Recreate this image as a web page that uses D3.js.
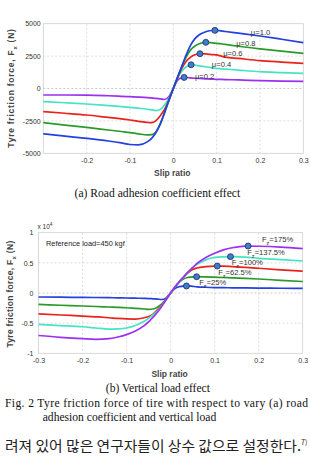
<!DOCTYPE html>
<html><head><meta charset="utf-8">
<script src="https://cdn.jsdelivr.net/npm/d3@7"></script>
<style>
html,body{margin:0;padding:0;background:#fff;}
svg{display:block;}
</style></head>
<body>
<script>
// ---------- DATA: chart (a) road adhesion coefficient ----------
const slipA = [-0.3,-0.25,-0.2,-0.15,-0.12,-0.1,-0.08,-0.06,-0.05,-0.04,-0.03,-0.02,-0.01,0,0.01,0.02,0.03,0.04,0.05,0.06,0.075,0.09,0.1,0.12,0.15,0.2,0.25,0.3];
const muNames = ["μ=0.2","μ=0.4","μ=0.6","μ=0.8","μ=1.0"];
const forceMu02 = [-500,-500,-510,-560,-600,-630,-660,-700,-730,-760,-800,-850,-620,0,650,830,850,815,790,770,745,720,710,690,660,610,575,555];
const forceMu04 = [-1015,-1100,-1196,-1320,-1400,-1453,-1520,-1600,-1650,-1700,-1620,-1250,-750,0,820,1350,1680,1830,1800,1740,1680,1590,1553,1500,1420,1296,1230,1168];
const forceMu06 = [-1790,-1910,-2045,-2230,-2340,-2430,-2530,-2620,-2640,-2480,-2100,-1600,-880,0,860,1580,2100,2420,2600,2680,2670,2620,2590,2420,2320,2150,2040,1940];
const forceMu08 = [-2640,-2820,-3000,-3200,-3320,-3400,-3500,-3580,-3560,-3330,-2700,-1850,-900,0,880,1720,2450,2980,3280,3450,3560,3520,3485,3400,3260,3060,2880,2710];
const forceMu10 = [-3500,-3680,-3850,-4050,-4200,-4320,-4350,-4120,-3850,-3400,-2750,-1850,-900,0,880,1750,2620,3350,3850,4150,4380,4475,4480,4400,4270,4050,3800,3540];
const peakSlipA = [0.025,0.041,0.0615,0.075,0.096];
const peakForceA = [855,1830,2685,3562,4485];
const labelSlipA = [0.050,0.089,0.115,0.145,0.179];
const labelForceA = [940,1867,2723,3526,4360];
const xTicksA = [-0.2,-0.1,0,0.1,0.2,0.3];
const xTickLabelsA = ["-0.2","-0.1","0","0.1","0.2","0.3"];
const yTicksA = [-5000,-2500,0,2500,5000];
const yTickLabelsA = ["-5000","-2500","0","2500","5000"];

// ---------- DATA: chart (b) vertical load (x 10^4 N) ----------
const slipB = [-0.3,-0.25,-0.2,-0.17,-0.14,-0.12,-0.1,-0.08,-0.06,-0.05,-0.04,-0.03,-0.02,-0.01,0,0.01,0.02,0.03,0.04,0.05,0.06,0.08,0.1,0.12,0.14,0.17,0.2,0.25,0.3];
const loadNames = ["25%","62.5%","100%","137.5%","175%"];
const forceFz25 = [-0.066,-0.07,-0.073,-0.075,-0.078,-0.08,-0.083,-0.086,-0.089,-0.092,-0.096,-0.1,-0.108,-0.08,0,0.075,0.105,0.115,0.117,0.11,0.103,0.095,0.09,0.088,0.086,0.084,0.082,0.079,0.077];
const forceFz625 = [-0.19,-0.203,-0.216,-0.224,-0.232,-0.238,-0.245,-0.255,-0.265,-0.27,-0.265,-0.235,-0.18,-0.1,0,0.095,0.18,0.235,0.258,0.268,0.27,0.266,0.262,0.257,0.252,0.243,0.232,0.21,0.19];
const forceFz100 = [-0.345,-0.365,-0.382,-0.395,-0.41,-0.422,-0.43,-0.432,-0.41,-0.39,-0.35,-0.28,-0.2,-0.105,0,0.1,0.19,0.27,0.34,0.39,0.415,0.437,0.446,0.445,0.437,0.425,0.41,0.385,0.362];
const forceFz1375 = [-0.52,-0.54,-0.56,-0.58,-0.6,-0.595,-0.58,-0.54,-0.47,-0.42,-0.36,-0.3,-0.21,-0.11,0,0.1,0.19,0.27,0.35,0.42,0.475,0.55,0.59,0.6,0.603,0.595,0.575,0.555,0.531];
const forceFz175 = [-0.705,-0.735,-0.758,-0.768,-0.758,-0.73,-0.69,-0.63,-0.54,-0.48,-0.4,-0.32,-0.22,-0.11,0,0.1,0.19,0.27,0.35,0.42,0.49,0.59,0.66,0.715,0.75,0.777,0.775,0.762,0.735];
const peakSlipB = [0.036,0.059,0.106,0.136,0.176];
const peakForceB = [0.117,0.27,0.447,0.603,0.779];
const labelSlipB = [0.065,0.108,0.1386,0.174,0.2075];
const labelForceB = [0.171,0.337,0.511,0.68,0.889];
const xTicksB = [-0.3,-0.2,-0.1,0,0.1,0.2,0.3];
const xTickLabelsB = ["-0.3","-0.2","-0.1","0","0.1","0.2","0.3"];
const yTicksB = [-1,-0.5,0,0.5,1];
const yTickLabelsB = ["-1","-0.5","0","0.5","1"];

// ---------- RENDER ----------
const W = 310, H = 469;
const svg = d3.select("body").append("svg").attr("width", W).attr("height", H);
svg.append("rect").attr("width", W).attr("height", H).attr("fill", "#fff");

const seriesColorsA = ["#9b30f0","#45e4c4","#e8231e","#2a9a2a","#2440e0"];
const seriesColorsB = ["#2440e0","#2a9a2a","#e8231e","#45e4c4","#9b30f0"];
const sans = "'Liberation Sans', Arial, sans-serif";

function drawChart(cfg) {
  const x = d3.scaleLinear().domain([-0.3, 0.3]).range([cfg.left, cfg.right]);
  const y = d3.scaleLinear().domain(cfg.yDomain).range([cfg.bottom, cfg.top]);
  const g = svg.append("g");

  // grid
  g.selectAll(".gx").data(cfg.xTicks.filter(v => v > -0.3 && v < 0.3)).join("line")
    .attr("x1", d => x(d)).attr("x2", d => x(d)).attr("y1", cfg.top).attr("y2", cfg.bottom)
    .attr("stroke", "#d4d4d4").attr("stroke-width", 0.8).attr("stroke-dasharray", "2,2");
  g.selectAll(".gy").data(cfg.yTicks.filter(v => v > cfg.yDomain[0] && v < cfg.yDomain[1])).join("line")
    .attr("x1", cfg.left).attr("x2", cfg.right).attr("y1", d => y(d)).attr("y2", d => y(d))
    .attr("stroke", d => d === 0 ? "#bdbdbd" : "#d4d4d4").attr("stroke-width", 0.8).attr("stroke-dasharray", "2,2");
  // frame
  g.append("rect").attr("x", cfg.left).attr("y", cfg.top)
    .attr("width", cfg.right - cfg.left).attr("height", cfg.bottom - cfg.top)
    .attr("fill", "none").attr("stroke", "#cfcfcf").attr("stroke-width", 0.8);

  // axes (labels only)
  const ax = g.append("g").attr("transform", `translate(0,${cfg.bottom})`)
    .call(d3.axisBottom(x).tickValues(cfg.xTicks).tickFormat((d, i) => cfg.xTickLabels[i]).tickSize(0).tickPadding(cfg.xPad));
  const ay = g.append("g").attr("transform", `translate(${cfg.left},0)`)
    .call(d3.axisLeft(y).tickValues(cfg.yTicks).tickFormat((d, i) => cfg.yTickLabels[i]).tickSize(0).tickPadding(cfg.yPad));
  [ax, ay].forEach(a => {
    a.select(".domain").remove();
    a.selectAll("text").attr("font-family", sans)
      .attr("font-size", 7).attr("fill", "#333");
  });

  // curves
  const line = d3.line().x(d => x(d[0])).y(d => y(d[1])).curve(d3.curveMonotoneX);
  cfg.series.forEach((vals, i) => {
    g.append("path").datum(cfg.slip.map((s, k) => [s, vals[k]]))
      .attr("d", line).attr("fill", "none")
      .attr("stroke", cfg.colors[i]).attr("stroke-width", 1.7).attr("stroke-linejoin", "round");
  });

  // markers
  g.selectAll(".mk").data(cfg.peakSlip.map((s, i) => [s, cfg.peakForce[i]])).join("circle")
    .attr("cx", d => x(d[0])).attr("cy", d => y(d[1])).attr("r", 3)
    .attr("fill", "#3f7cc9").attr("stroke", "#1d2d5e").attr("stroke-width", 0.8);

  // annotations
  cfg.names.forEach((name, i) => {
    const t = g.append("text").attr("x", x(cfg.labelSlip[i])).attr("y", y(cfg.labelForce[i]) + 2.8)
      .attr("font-family", sans).attr("font-size", 7.6).attr("fill", "#333");
    if (cfg.subLabel) {
      t.append("tspan").text("F");
      t.append("tspan").text("z").attr("font-size", 5.5).attr("dy", 3);
      t.append("tspan").text("=" + name).attr("dy", -3);
    } else {
      t.text(name);
    }
  });

  // x axis title
  g.append("text").attr("x", (cfg.left + cfg.right) / 2 - 1).attr("y", cfg.xTitleY)
    .attr("text-anchor", "middle").attr("font-family", sans)
    .attr("font-size", 8.5).attr("font-weight", "bold").attr("fill", "#444").text("Slip ratio");

  // y axis title
  const yt = g.append("text").attr("transform", `translate(${cfg.yTitleX},${cfg.yTitleCY}) rotate(-90)`)
    .attr("text-anchor", "middle").attr("font-family", sans)
    .attr("font-size", 8.5).attr("font-weight", "bold").attr("fill", "#444")
    .attr("letter-spacing", cfg.yTitleSpacing);
  yt.append("tspan").text("Tyre friction force, F");
  yt.append("tspan").text("x").attr("font-size", 6).attr("dy", 2.5);
  yt.append("tspan").text(" (N)").attr("dy", -2.5);
  return { x, y, g };
}

drawChart({
  left: 43.3, right: 303.3, top: 23.7, bottom: 153.3, yDomain: [-5000, 5000],
  xTicks: xTicksA, xTickLabels: xTickLabelsA, yTicks: yTicksA, yTickLabels: yTickLabelsA,
  xPad: 5, yPad: 2.6, slip: slipA, series: [forceMu02, forceMu04, forceMu06, forceMu08, forceMu10],
  colors: seriesColorsA, peakSlip: peakSlipA, peakForce: peakForceA,
  names: muNames, labelSlip: labelSlipA, labelForce: labelForceA, subLabel: false,
  xTitleY: 176, yTitleX: 14, yTitleCY: 88, yTitleSpacing: 0.75
});

drawChart({
  left: 38.5, right: 302.7, top: 232.7, bottom: 353.3, yDomain: [-1, 1],
  xTicks: xTicksB, xTickLabels: xTickLabelsB, yTicks: yTicksB, yTickLabels: yTickLabelsB,
  xPad: 5, yPad: 5, slip: slipB, series: [forceFz25, forceFz625, forceFz100, forceFz1375, forceFz175],
  colors: seriesColorsB, peakSlip: peakSlipB, peakForce: peakForceB,
  names: loadNames, labelSlip: labelSlipB, labelForce: labelForceB, subLabel: true,
  xTitleY: 376.5, yTitleX: 13, yTitleCY: 294, yTitleSpacing: 0.3
});

// multiplier & reference load note
const mult = svg.append("text").attr("x", 37.5).attr("y", 228.5)
  .attr("font-family", sans).attr("font-size", 6.5).attr("fill", "#333");
mult.append("tspan").text("x 10");
mult.append("tspan").text("4").attr("font-size", 4.8).attr("dy", -3);
svg.append("text").attr("x", 46).attr("y", 245.6)
  .attr("font-family", sans).attr("font-size", 7.4).attr("fill", "#222")
  .text("Reference load=450 kgf");

// captions
const serif = "'Liberation Serif', 'Times New Roman', serif";
const capSize = 11.6;
svg.append("text").attr("x", 157.4).attr("y", 197.2).attr("text-anchor", "middle")
  .attr("font-family", serif).attr("font-size", capSize).attr("fill", "#111")
  .text("(a) Road adhesion coefficient effect");
svg.append("text").attr("x", 157.9).attr("y", 392.2).attr("text-anchor", "middle")
  .attr("font-family", serif).attr("font-size", capSize).attr("fill", "#111")
  .text("(b) Vertical load effect");
svg.append("text").attr("x", 5).attr("y", 407.3).attr("font-family", serif).attr("font-size", capSize)
  .attr("fill", "#111").attr("textLength", 303).attr("lengthAdjust", "spacing")
  .text("Fig.  2  Tyre friction force of tire with respect to vary (a) road");
svg.append("text").attr("x", 42.7).attr("y", 420.8).attr("font-family", serif).attr("font-size", capSize)
  .attr("fill", "#111").text("adhesion coefficient and vertical load");
const kr = svg.append("text").attr("x", 5).attr("y", 451).attr("font-family", "'Noto Sans CJK KR', sans-serif")
  .attr("font-size", 14).attr("fill", "#222");
kr.append("tspan").text("려져 있어 많은 연구자들이 상수 값으로 설정한다.")
  .attr("textLength", 296).attr("lengthAdjust", "spacingAndGlyphs");
kr.append("tspan").text("7)").attr("font-size", 7).attr("dy", -6);
</script>
</body></html>
